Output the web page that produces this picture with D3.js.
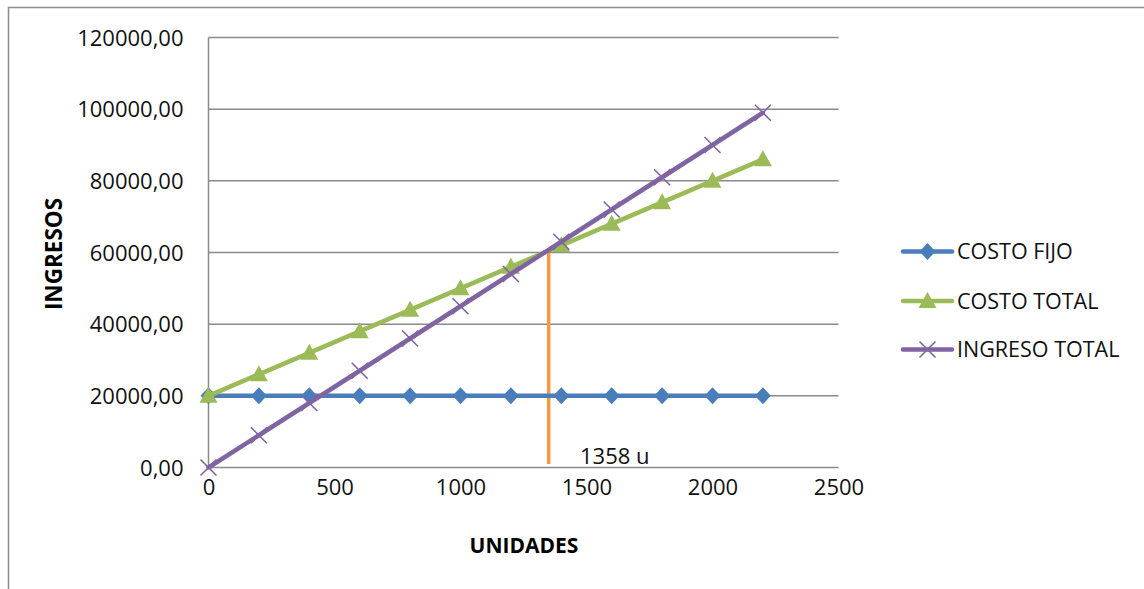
<!DOCTYPE html>
<html><head><meta charset="utf-8">
<script src="https://cdn.jsdelivr.net/npm/d3@7"></script>
<style>body{margin:0;background:#fff}svg{display:block}text{font-family:"Open Sans",sans-serif}</style>
</head><body>
<svg id="c" width="1144" height="589"></svg>
<script>
const units = [0,200,400,600,800,1000,1200,1400,1600,1800,2000,2200];
const costoFijo = [20000,20000,20000,20000,20000,20000,20000,20000,20000,20000,20000,20000];
const costoTotal = [20000,26000,32000,38000,44000,50000,56000,62000,68000,74000,80000,86000];
const ingresoTotal = [0,9000,18000,27000,36000,45000,54000,63000,72000,81000,90000,99000];
const seriesNames = ["COSTO FIJO","COSTO TOTAL","INGRESO TOTAL"];
const xTicks = [0,500,1000,1500,2000,2500];
const yTicks = [0,20000,40000,60000,80000,100000,120000];
const breakEvenX = 1350;
const breakEvenY = [1000,60000];
const breakEvenLabel = "1358 u";

const svg = d3.select("#c");
svg.append("path").attr("d","M8.5,589 V7.5 H1144").attr("fill","none").attr("stroke","#8c8c8c").attr("stroke-width",1.5);

const x = d3.scaleLinear().domain([0,2500]).range([208.5,838.5]);
const y = d3.scaleLinear().domain([0,120000]).range([467.5,37.5]);

svg.append("g").selectAll("line").data(yTicks).join("line")
  .attr("x1",x(0)).attr("x2",x(2500)).attr("y1",d=>y(d)).attr("y2",d=>y(d))
  .attr("stroke","#8a8a8a").attr("stroke-width",1.5);
svg.append("line").attr("x1",x(0)).attr("x2",x(0)).attr("y1",y(0)).attr("y2",y(120000))
  .attr("stroke","#8a8a8a").attr("stroke-width",1.5);

const fmt = d => d3.format(".2f")(d).replace(".",",");
const yAxis = d3.axisLeft(y).tickValues(yTicks).tickFormat(fmt).tickSize(0).tickPadding(25);
const gy = svg.append("g").attr("transform",`translate(${x(0)},0)`).call(yAxis);
gy.select(".domain").remove();
gy.selectAll("text").attr("font-size",22).attr("fill","#111").attr("dy","0.35em").attr("font-family","'Open Sans',sans-serif");

const xAxis = d3.axisBottom(x).tickValues(xTicks).tickFormat(d=>d).tickSize(0).tickPadding(27);
const gx = svg.append("g").attr("transform",`translate(0,${y(0)})`).call(xAxis);
gx.select(".domain").remove();
gx.selectAll("text").attr("font-size",22).attr("fill","#111").attr("dy","0").attr("font-family","'Open Sans',sans-serif");

svg.append("text").attr("x",524).attr("y",553).attr("text-anchor","middle")
  .attr("font-size",21).attr("font-weight","bold").text("UNIDADES");
svg.append("text").attr("transform","translate(62,254) rotate(-90)").attr("text-anchor","middle")
  .attr("font-size",22.5).attr("font-weight","bold").text("INGRESOS");

const colors = ["#4a7ebb","#9bbb59","#8064a2"];
const data = [costoFijo,costoTotal,ingresoTotal];
const line = d3.line().x((d,i)=>x(units[i])).y(d=>y(d));

svg.append("line").attr("x1",x(breakEvenX)).attr("x2",x(breakEvenX))
  .attr("y1",y(breakEvenY[0])).attr("y2",y(breakEvenY[1]))
  .attr("stroke","#f79646").attr("stroke-width",3.5);

function marker(g,k,cx,cy){
  if(k===0){
    g.append("path").attr("d",`M${cx},${cy-8.5} L${cx+8},${cy} L${cx},${cy+8.5} L${cx-8},${cy} Z`).attr("fill",colors[0]);
  } else if(k===1){
    g.append("path").attr("d",`M${cx},${cy-9} L${cx+9},${cy+7} L${cx-9},${cy+7} Z`).attr("fill",colors[1]);
  } else {
    g.append("path").attr("d",`M${cx-8},${cy-8} L${cx+8},${cy+8} M${cx+8},${cy-8} L${cx-8},${cy+8}`)
      .attr("stroke",colors[2]).attr("stroke-width",1.6).attr("fill","none");
  }
}

data.forEach((vals,k)=>{
  const g = svg.append("g");
  g.append("path").datum(vals).attr("d",line).attr("fill","none")
    .attr("stroke",colors[k]).attr("stroke-width",4.5).attr("stroke-linejoin","round").attr("stroke-linecap","round");
  vals.forEach((v,i)=>marker(g,k,x(units[i]),y(v)));
});

svg.append("text").attr("x",580).attr("y",464).attr("font-size",22).attr("fill","#111").text(breakEvenLabel);

const ly = [251.5,301,349.5];
seriesNames.forEach((n,k)=>{
  const g = svg.append("g");
  g.append("line").attr("x1",903).attr("x2",952).attr("y1",ly[k]).attr("y2",ly[k])
    .attr("stroke",colors[k]).attr("stroke-width",4.5).attr("stroke-linecap","round");
  marker(g,k,927.5,ly[k]);
  g.append("text").attr("x",957).attr("y",ly[k]).attr("dy","0.35em").attr("font-size",21.5).attr("fill","#111").text(n);
});
</script>
</body></html>
